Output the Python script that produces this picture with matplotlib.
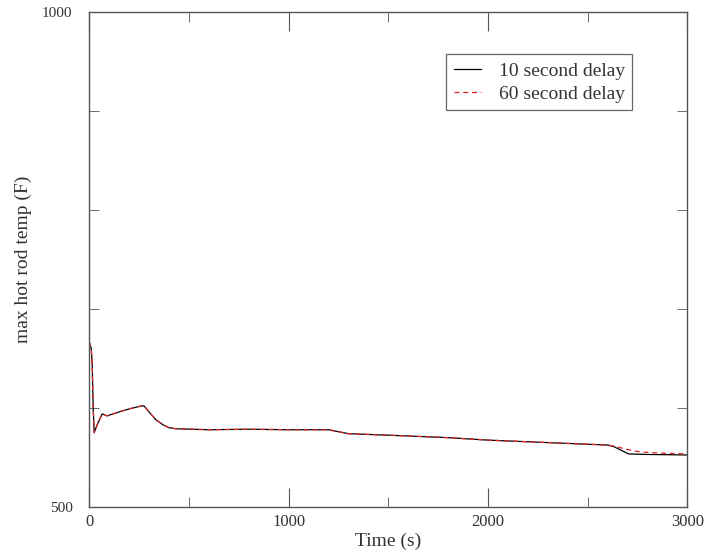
import numpy as np
import matplotlib.pyplot as plt
from matplotlib.ticker import MultipleLocator, FixedLocator

# max hot rod temperature histories (s, F)
time_10s = [0, 10, 15, 20, 25, 40, 65, 90, 150, 200, 260, 275, 300, 335, 370, 400, 435,
            600, 800, 1000, 1200, 1250, 1300, 1500, 1800, 2000, 2300, 2600, 2630,
            2670, 2705, 2800, 3000]
temp_10s = [667, 660, 645, 600, 575, 583, 594, 592, 596, 599, 602, 602, 596, 588, 583,
            580, 579, 578, 578.5, 578, 578, 576, 574, 572.5, 570, 567.5, 565, 562.5, 561,
            557, 553.5, 553, 552.5]

time_60s = [0, 10, 15, 20, 25, 40, 65, 90, 150, 200, 260, 275, 300, 335, 370, 400, 435,
            600, 800, 1000, 1200, 1250, 1300, 1500, 1800, 2000, 2300, 2600, 2630,
            2700, 2765, 2850, 3000]
temp_60s = [667, 660, 645, 600, 575, 583, 594, 592, 596, 599, 602, 602, 596, 588, 583,
            580, 579, 578, 578.5, 578, 578, 576, 574, 572.5, 570, 567.5, 565, 562.5, 561.5,
            558, 555.5, 554.5, 553.5]

plt.rcParams['font.family'] = ['Liberation Serif', 'DejaVu Serif']

fig = plt.figure(figsize=(7.08, 5.54), dpi=100)
ax = fig.add_axes([0.126, 0.085, 0.845, 0.893])

ax.plot(time_10s, temp_10s, color='black', lw=0.9, label='10 second delay')
ax.plot(time_60s, temp_60s, color='#e02424', lw=0.9, ls=(0, (4, 3)), label='60 second delay')

ax.set_xlim(0, 3000)
ax.set_ylim(500, 1000)
ax.xaxis.set_major_locator(FixedLocator([0, 1000, 2000, 3000]))
ax.xaxis.set_minor_locator(MultipleLocator(500))
ax.yaxis.set_major_locator(FixedLocator([500, 1000]))
ax.yaxis.set_minor_locator(FixedLocator([600, 700, 800, 900]))

for s in ax.spines.values():
    s.set_color('#555555')
    s.set_linewidth(1.0)

ax.tick_params(which='both', direction='in', top=True, right=True, color='#555555',
               labelcolor='#333333')
ax.tick_params(axis='x', which='major', length=14, pad=5, labelsize=12)
ax.tick_params(axis='x', which='minor', length=7)
ax.tick_params(axis='y', which='major', length=0, pad=12, labelsize=11)
ax.tick_params(axis='y', which='minor', length=7)

ax.set_xlabel('Time (s)', fontsize=14, color='#333333', labelpad=2)
ax.set_ylabel('max hot rod temp (F)', fontsize=14, color='#333333', labelpad=7)

leg = ax.legend(loc='upper right', bbox_to_anchor=(0.908, 0.915), borderaxespad=0,
                fontsize=14, frameon=True, fancybox=False, edgecolor='#444444',
                handlelength=1.4, handletextpad=0.9, borderpad=0.4, labelspacing=0.28)
leg.get_frame().set_linewidth(0.9)
for t in leg.get_texts():
    t.set_color('#333333')

fig.savefig('out.png', dpi=100)
